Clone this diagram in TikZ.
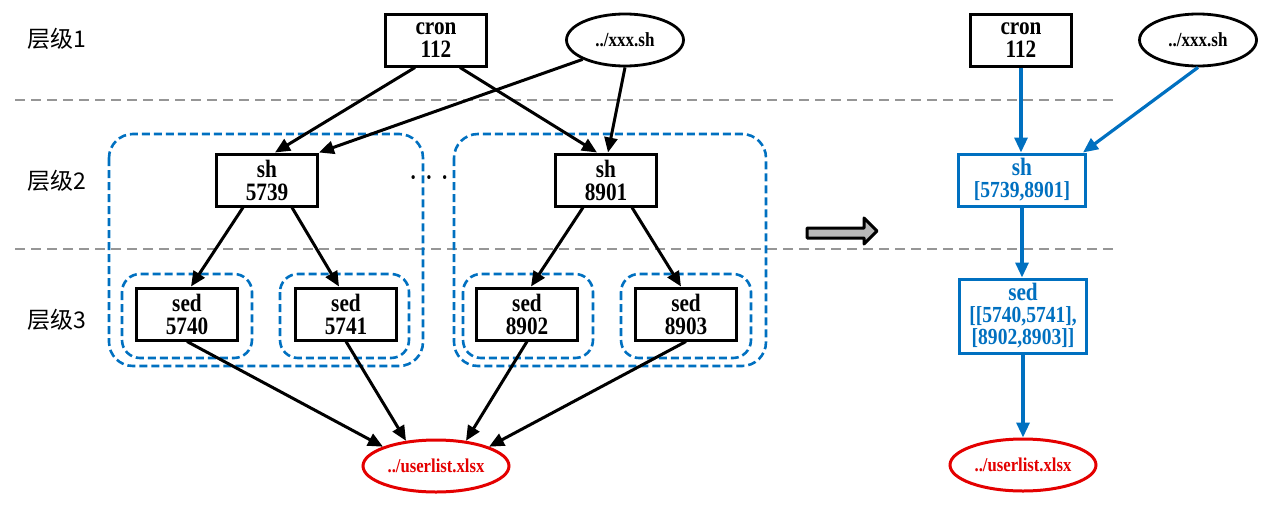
\documentclass[tikz,border=0pt]{standalone}
\usepackage{fontspec}
\setmainfont[FakeStretch=0.85]{Liberation Serif}
\newfontfamily\cjk{Noto Sans CJK SC}
\usetikzlibrary{arrows.meta,shapes.geometric,fit}
\definecolor{myblue}{RGB}{0,112,192}
\definecolor{myred}{RGB}{228,0,0}
\definecolor{sepgray}{RGB}{150,150,150}
\begin{document}
\begin{tikzpicture}[x=0.5pt,y=-0.5pt,
  box/.style={draw=black,line width=1.5pt,fill=white,minimum width=50.5pt,minimum height=26pt,inner sep=0pt,align=center,font=\bfseries\fontsize{12.5}{11.5}\selectfont},
  bbox/.style={draw=myblue,text=myblue,line width=1.5pt,fill=white,minimum width=63.5pt,inner sep=0pt,align=center,font=\bfseries\fontsize{12.5}{11}\selectfont},
  oval/.style={ellipse,draw=black,line width=1.4pt,fill=white,minimum width=58.5pt,minimum height=26pt,inner sep=0pt,font=\bfseries\fontsize{10}{10}\selectfont},
  roval/.style={ellipse,draw=myred,text=myred,line width=1.5pt,fill=white,minimum width=73pt,minimum height=26pt,inner sep=0pt,font=\bfseries\fontsize{9.8}{9.8}\selectfont},
  lvl/.style={font=\cjk\fontsize{11.5}{11.5}\selectfont,inner sep=0pt},
  arr/.style={-{Triangle[length=7.5pt,width=6.5pt]},line width=1.5pt,black},
  barr/.style={-{Triangle[length=7.5pt,width=6.5pt]},line width=1.6pt,myblue},
  sepline/.style={draw=sepgray,line width=1pt,dash pattern=on 5pt off 3pt},
  grp/.style={draw=myblue,line width=1.3pt,dash pattern=on 4pt off 2pt,rounded corners=12pt},
  sgrp/.style={draw=myblue,line width=1.3pt,dash pattern=on 4pt off 2pt,rounded corners=9pt}
]
\useasboundingbox (0,0) rectangle (1268,514);

% separators
\draw[sepline] (15,100) -- (1117,100);
\draw[sepline] (15,249) -- (1117,249);

% level labels
\node[lvl] (l1) at (57,39) {层级1};
\node[lvl] (l2) at (57,181) {层级2};
\node[lvl] (l3) at (57,320) {层级3};

% group boxes
\draw[grp] (109,134) rectangle (423,366);
\draw[grp] (454,134) rectangle (766,366);
\draw[sgrp] (122,274) rectangle (252,358);
\draw[sgrp] (280,274) rectangle (409,358);
\draw[sgrp] (463,274) rectangle (593,358);
\draw[sgrp] (621,274) rectangle (751,358);

% left nodes
\node[box] (cron) at (436,40) {cron\\112};
\node[oval] (xxx) at (625,40) {../xxx.sh};
\node[box] (sh5739) at (267,180) {sh\\5739};
\node[box] (sh8901) at (606,180) {sh\\8901};
\node[font=\bfseries\fontsize{12}{12}\selectfont,inner sep=0pt] (dots) at (429,181) {·\hspace{4.5pt}·\hspace{4.5pt}·};
\node[box] (sed5740) at (187,314) {sed\\5740};
\node[box] (sed5741) at (346,314) {sed\\5741};
\node[box] (sed8902) at (527,314) {sed\\8902};
\node[box] (sed8903) at (686,314) {sed\\8903};
\node[roval] (userlist) at (436,466) {../userlist.xlsx};

% left arrows
\draw[arr] ([xshift=-10.5pt]cron.south) -- ([xshift=4pt]sh5739.north);
\draw[arr] ([xshift=12pt]cron.south) -- ([xshift=-4.5pt]sh8901.north);
\draw[arr] (xxx.south west) -- (sh5739.north east);
\draw[arr] (xxx.south) -- ([xshift=1pt]sh8901.north);
\draw[arr] ([xshift=-12pt]sh5739.south) -- ([xshift=2pt]sed5740.north);
\draw[arr] ([xshift=12.5pt]sh5739.south) -- ([xshift=-3.5pt]sed5741.north);
\draw[arr] ([xshift=-11.5pt]sh8901.south) -- ([xshift=2pt]sed8902.north);
\draw[arr] ([xshift=13pt]sh8901.south) -- ([xshift=-2.5pt]sed8903.north);
\draw[arr] (sed5740.south) -- (userlist.160);
\draw[arr] (sed5741.south) -- (userlist.140);
\draw[arr] (sed8902.south) -- (userlist.40);
\draw[arr] (sed8903.south) -- (userlist.20);

% transition arrow
\draw[line width=1.5pt,line join=round,fill=gray!55] (807,228) -- (864,228) -- (864,218) -- (877,231) -- (864,244) -- (864,238) -- (807,238) -- cycle;

% right nodes
\node[box] (cron2) at (1021,40) {cron\\112};
\node[oval] (xxx2) at (1198,40) {../xxx.sh};
\node[bbox,minimum height=26pt] (sh2) at (1022,180) {sh\\{}\fontsize{11.5}{11.5}\selectfont [5739,8901]};
\node[bbox,minimum height=37pt] (sed2) at (1023,316) {sed\\{}\fontsize{11.5}{10.5}\selectfont [[5740,5741],\\{}\fontsize{11.5}{10.5}\selectfont [8902,8903]]};
\node[roval] (userlist2) at (1023,465) {../userlist.xlsx};

% right arrows
\draw[barr] (cron2.south) -- (cron2.south |- sh2.north);
\draw[barr] (xxx2.south) -- ([xshift=-2pt]sh2.north east);
\draw[barr] (sh2.south) -- (sh2.south |- sed2.north);
\draw[barr] (sed2.south) -- (sed2.south |- userlist2.north);
\end{tikzpicture}
\end{document}
